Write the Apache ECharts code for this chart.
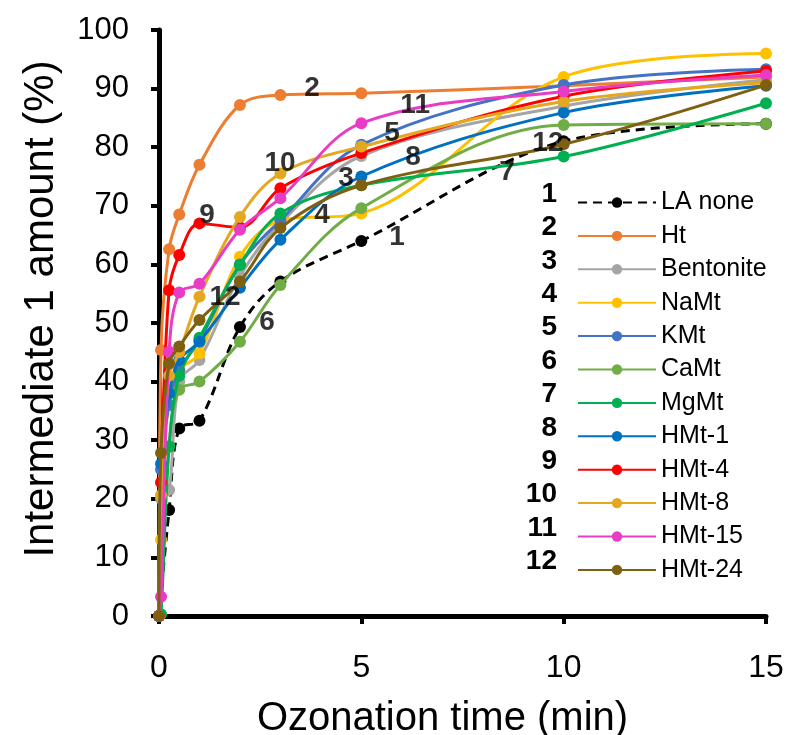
<!DOCTYPE html>
<html>
<head>
<meta charset="utf-8">
<script src="https://cdn.jsdelivr.net/npm/echarts@6/dist/echarts.min.js"></script>
<style>
html,body{margin:0;padding:0;background:#fff;}
#c{width:787px;height:735px;}
</style>
</head>
<body>
<div id="c"></div>
<script>
// ---- data ----
const times = [0, 0.05, 0.25, 0.5, 1, 2, 3, 5, 10, 15];
const seriesNames = ['LA none','Ht','Bentonite','NaMt','KMt','CaMt','MgMt','HMt-1','HMt-4','HMt-8','HMt-15','HMt-24'];
const seriesNumbers = ['1','2','3','4','5','6','7','8','9','10','11','12'];
const laNone   = [0, null, 18.1, 32.0, 33.3, 49.3, 57.1, 64.0, 81.0, 84.0];
const ht       = [0, 45.4, 62.6, 68.5, 77.0, 87.2, 88.9, 89.2, 90.5, 92.0];
const bentonite= [0, 20.0, 21.5, 40.0, 43.7, 58.0, 67.0, 78.5, 87.0, 91.5];
const naMt     = [0, 13.0, 38.0, 42.0, 44.8, 61.3, 67.5, 68.7, 92.0, 96.0];
const kMt      = [0, 25.0, 36.0, 42.0, 47.0, 60.0, 67.5, 80.4, 90.6, 93.3];
const caMt     = [0, null, 29.0, 38.6, 40.0, 46.8, 56.5, 69.6, 83.8, 84.0];
const mgMt     = [0, 0.3, 28.9, 41.0, 47.5, 59.9, 68.7, 73.5, 78.4, 87.5];
const hmt1     = [0, 26.0, 38.0, 43.7, 46.8, 56.0, 64.2, 75.0, 85.9, 90.5];
const hmt4     = [0, 22.8, 55.6, 61.6, 67.0, 66.3, 73.0, 79.0, 88.7, 93.0];
const hmt8     = [0, 20.6, 41.0, 45.0, 54.5, 68.1, 75.5, 80.1, 87.8, 91.0];
const hmt15    = [0, 3.3, 45.1, 55.2, 56.7, 65.9, 71.3, 84.1, 89.5, 92.3];
const hmt24    = [0, 27.8, 43.1, 46.0, 50.5, 57.1, 66.2, 73.5, 80.5, 90.6];
const allValues = [laNone, ht, bentonite, naMt, kMt, caMt, mgMt, hmt1, hmt4, hmt8, hmt15, hmt24];
const colors = ['#000000','#ED7D31','#A5A5A5','#FFC000','#4472C4','#70AD47','#00B050','#0070C0','#FF0000','#E3A820','#E83CC4','#7F6010'];
// in-plot curve labels
const annotText = ['2','11','5','10','8','3','12','7','4','1','9','12','6'];
const annotX    = [3.78, 6.33, 5.76, 2.99, 6.28, 4.62, 9.61, 8.60, 4.03, 5.88, 1.19, 1.63, 2.67];
const annotY    = [90.1, 87.2, 82.4, 77.3, 78.3, 74.7, 80.7, 75.8, 68.3, 64.7, 68.3, 54.4, 50.2];
const xTicks = [0, 5, 10, 15];
const yTicks = [0,10,20,30,40,50,60,70,80,90,100];

// ---- chart ----
const FONT = 'Liberation Sans, Arial, sans-serif';
const chart = echarts.init(document.getElementById('c'), null, {renderer:'canvas'});
const series = seriesNames.map((name, i) => ({
  name: name,
  type: 'line',
  data: times.map((t, k) => [t, allValues[i][k]]),
  connectNulls: true,
  smooth: 0.35,
  symbol: 'circle',
  symbolSize: 12,
  showSymbol: true,
  color: colors[i],
  lineStyle: { width: 3, color: colors[i], type: i === 0 ? [9, 6] : 'solid' },
  itemStyle: { color: colors[i] },
  z: 2 + i,
  animation: false
}));
series.push({
  name: 'labels',
  type: 'scatter',
  symbolSize: 0,
  data: annotText.map((t, i) => ({ name: t, value: [annotX[i], annotY[i]] })),
  label: { show: true, position: 'inside', formatter: p => p.name, fontSize: 28, fontWeight: 'bold', color: '#000', fontFamily: FONT },
  z: 30,
  silent: true,
  animation: false
});

const legendTop = 185, rowH = 33.4;
const graphics = seriesNumbers.map((n, i) => ({
  type: 'text',
  right: 787 - 557,
  top: legendTop + 3 + i * rowH - 8,
  style: { text: n, font: 'bold 28px ' + FONT, fill: '#000', textAlign: 'right' },
  z: 50
}));

chart.setOption({
  animation: false,
  backgroundColor: '#fff',
  grid: { left: 159, right: 21, top: 30, bottom: 119, containLabel: false, outerBoundsMode: 'none' },
  xAxis: {
    type: 'value', min: 0, max: 15, interval: 5,
    splitLine: { show: false },
    axisLine: { show: true, onZero: false, lineStyle: { color: '#000', width: 5 } },
    axisTick: { show: true, length: 8, lineStyle: { color: '#000', width: 4 } },
    axisLabel: { fontSize: 32, color: '#000', margin: 36, fontFamily: FONT,
      formatter: v => xTicks.includes(v) ? String(v) : '' },
    name: 'Ozonation time (min)', nameLocation: 'middle', nameGap: 83,
    nameTextStyle: { fontSize: 40, color: '#000', fontFamily: FONT, padding: [0, 40, 0, 0] }
  },
  yAxis: {
    type: 'value', min: 0, max: 100, interval: 10,
    splitLine: { show: false },
    axisLine: { show: true, onZero: false, lineStyle: { color: '#000', width: 5 } },
    axisTick: { show: true, length: 8, lineStyle: { color: '#000', width: 4 } },
    axisLabel: { fontSize: 31, color: '#000', margin: 30, fontFamily: FONT,
      formatter: v => yTicks.includes(v) ? String(v) : '' },
    name: 'Intermediate 1 amount (%)', nameLocation: 'middle', nameGap: 97, nameRotate: 90,
    nameTextStyle: { fontSize: 42, color: '#000', fontFamily: FONT, padding: [0, 0, 0, 28] }
  },
  legend: {
    data: seriesNames,
    orient: 'vertical',
    left: 572, top: legendTop,
    itemWidth: 78, itemHeight: 13, itemGap: 8.4,
    textStyle: { fontSize: 25, color: '#000', fontFamily: FONT },
    selectedMode: false
  },
  graphic: graphics,
  series: series
});
</script>
</body>
</html>
